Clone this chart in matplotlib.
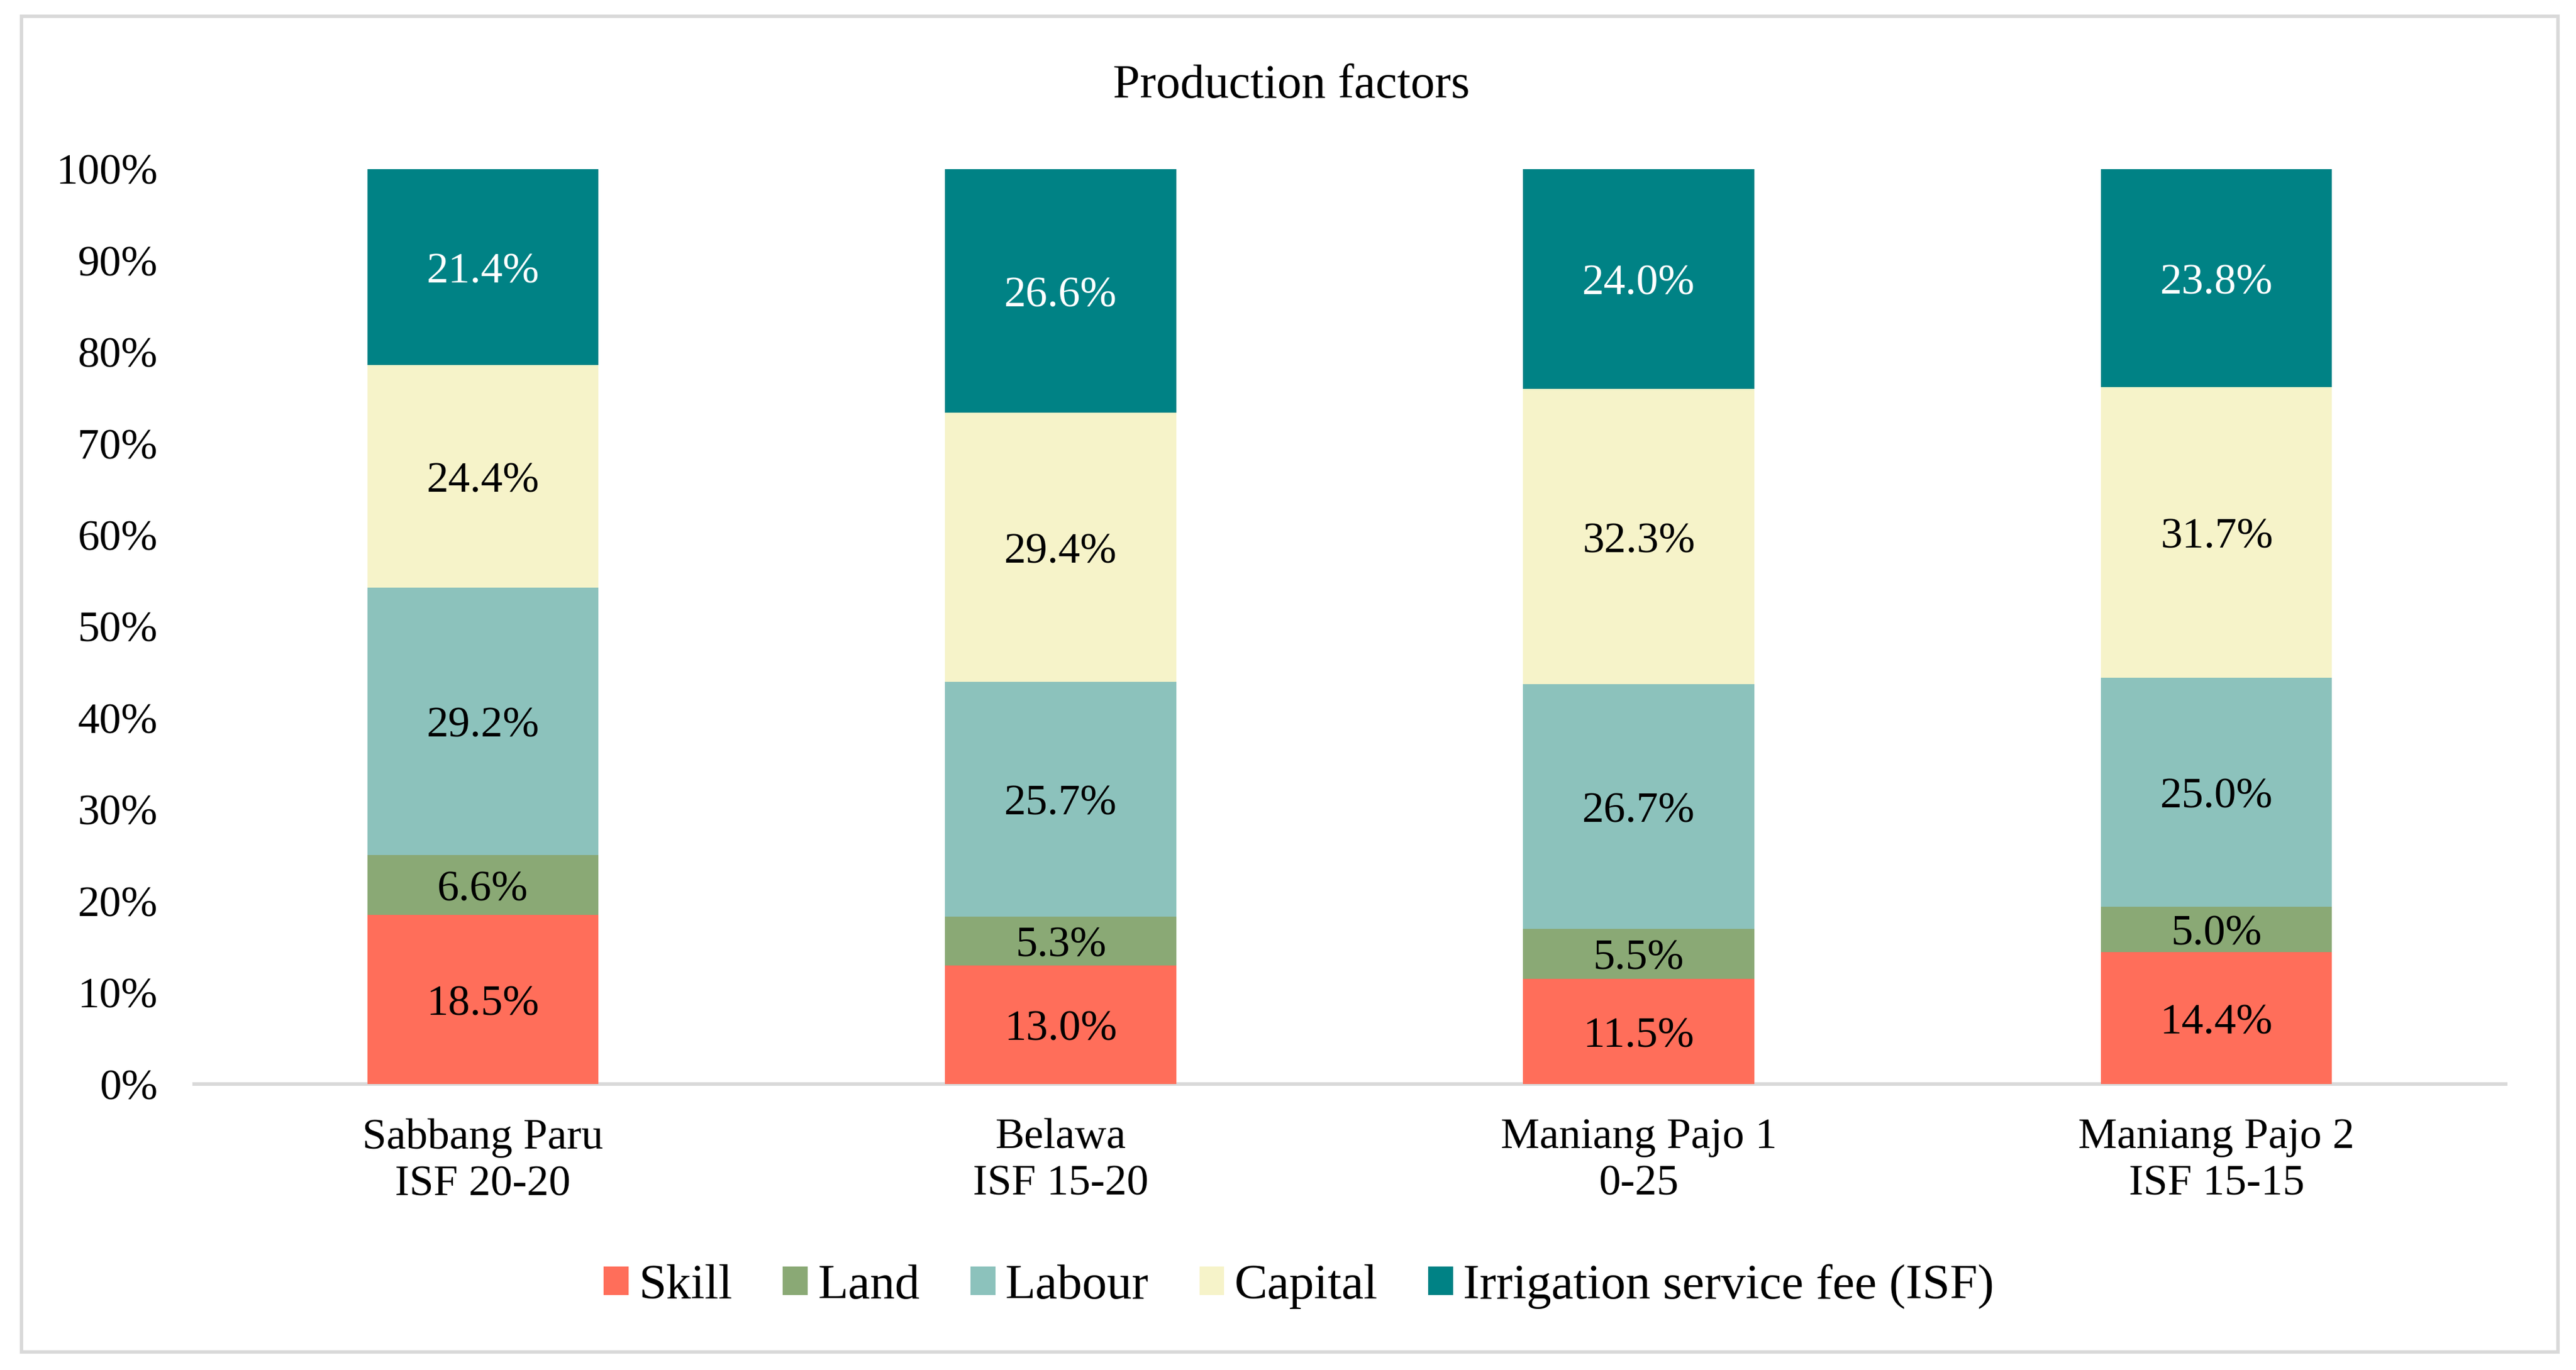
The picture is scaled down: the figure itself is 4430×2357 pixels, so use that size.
import matplotlib
matplotlib.use("Agg")
import matplotlib.pyplot as plt
from matplotlib.patches import Rectangle
import numpy as np

categories = ["Sabbang Paru\nISF 20-20", "Belawa\nISF 15-20", "Maniang Pajo 1\n0-25", "Maniang Pajo 2\nISF 15-15"]
series_names = ["Skill", "Land", "Labour", "Capital", "Irrigation service fee (ISF)"]
skill = [18.5, 13.0, 11.5, 14.4]
land = [6.6, 5.3, 5.5, 5.0]
labour = [29.2, 25.7, 26.7, 25.0]
capital = [24.4, 29.4, 32.3, 31.7]
isf = [21.4, 26.6, 24.0, 23.8]
yticks = [0, 10, 20, 30, 40, 50, 60, 70, 80, 90, 100]

colors = ["#FF6E5A", "#8AA975", "#8CC2BC", "#F6F3C9", "#008285"]
label_colors = ["black", "black", "black", "black", "white"]

plt.rcParams['font.family'] = ['Liberation Serif', 'DejaVu Serif']

fig = plt.figure(figsize=(4430/300, 2357/300), dpi=300)
ax = fig.add_axes([0.0753, 0.2086, 0.9726-0.0753, 0.8765-0.2086])

data = np.array([skill, land, labour, capital, isf], dtype=float)
totals = data.sum(axis=0)
heights = data / totals * 100.0
x = np.arange(len(categories))
bottom = np.zeros(len(categories))
for i, name in enumerate(series_names):
    ax.bar(x, heights[i], 0.4, bottom=bottom, color=colors[i], label=name, zorder=2)
    for j in range(len(categories)):
        ax.annotate(f"{data[i][j]:.1f}%", (x[j], bottom[j] + heights[i][j] / 2),
                    xytext=(0, -2.2), textcoords="offset points",
                    ha="center", va="center", fontsize=18, color=label_colors[i], zorder=3)
    bottom += heights[i]

ax.set_xlim(-0.5, len(categories) - 0.5)
ax.set_ylim(0, 100)
ax.set_yticks(yticks)
ax.set_yticklabels([f"{v}%" for v in yticks], fontsize=18)
ax.set_xticks(x)
ax.set_xticklabels(categories, fontsize=18, linespacing=1.25)
ax.tick_params(axis="y", length=0, pad=15)
ax.tick_params(axis="x", length=0, pad=14)
for s in ["top", "right", "left"]:
    ax.spines[s].set_visible(False)
ax.spines["bottom"].set_color("#D9D9D9")
ax.spines["bottom"].set_linewidth(1.5)
ax.spines["bottom"].set_zorder(1)

fig.text(0.5013, 0.937, "Production factors", ha="center", va="center", fontsize=20)

leg = fig.legend(loc="center", bbox_to_anchor=(0.5042, 0.061), ncol=5, frameon=False,
                 fontsize=20.5, handlelength=0.5, handleheight=0.5, handletextpad=0.2,
                 columnspacing=1.02)

fig.patches.append(Rectangle((13/1568, 1 - 823/834), (1557 - 13)/1568, (823 - 10)/834,
                             transform=fig.transFigure, fill=False, edgecolor="#D9D9D9",
                             linewidth=1.4, zorder=0))

fig.savefig("out.png", dpi=300, facecolor="white")
